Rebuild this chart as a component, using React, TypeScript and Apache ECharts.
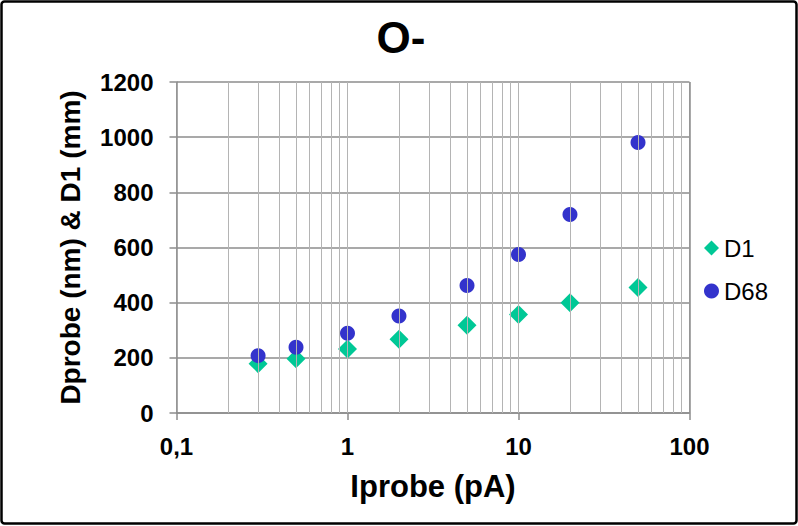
import React, { useEffect, useRef } from "react";
import * as echarts from "echarts";

const currents = [0.3, 0.5, 1, 2, 5, 10, 20, 50];
const d1Values = [179, 197, 232, 267, 318, 357, 400, 455];
const d68Values = [208, 238, 289, 352, 462, 575, 720, 981];
const minorGridValues = [
  0.2, 0.3, 0.4, 0.5, 0.6, 0.7, 0.8, 0.9,
  2, 3, 4, 5, 6, 7, 8, 9,
  20, 30, 40, 50, 60, 70, 80, 90,
];
const majorGridValues = [1, 10];
const seriesNames = ["D1", "D68"];

const FONT = "'Liberation Sans', Arial, Helvetica, sans-serif";

export default function App() {
  const ref = useRef<HTMLDivElement>(null);
  useEffect(() => {
    if (!ref.current) return;
    const chart = echarts.init(ref.current, null, { renderer: "svg" });
    const fmtX = (v: number) => String(Number(v.toPrecision(6))).replace(".", ",");
    const fmtY = (v: number) => String(Math.round(v));
    chart.setOption({
      animation: false,
      backgroundColor: "#ffffff",
      grid: { left: 176.5, right: 108.5, top: 82, bottom: 113, containLabel: false },
      graphic: [
        {
          type: "rect",
          shape: { x: 1.5, y: 1.5, width: 795, height: 522, r: 3 },
          style: { fill: "none", stroke: "#000000", lineWidth: 2.5 },
          silent: true,
          z: 100,
        },
        {
          type: "text",
          x: 401,
          y: 37,
          style: {
            text: "O-",
            fontFamily: FONT,
            fontWeight: "bold",
            fontSize: 44,
            fill: "#000000",
            textAlign: "center",
            textVerticalAlign: "middle",
          },
        },
      ],
      legend: {
        data: seriesNames,
        orient: "vertical",
        left: 699,
        top: 231,
        itemWidth: 15,
        itemHeight: 15,
        itemGap: 19,
        textStyle: { fontFamily: FONT, fontSize: 24, color: "#000000", lineHeight: 24 },
      },
      xAxis: {
        type: "log",
        logBase: 10,
        min: 0.1,
        max: 100,
        name: "Iprobe (pA)",
        nameLocation: "middle",
        nameGap: 58,
        nameTextStyle: { fontFamily: FONT, fontWeight: "bold", fontSize: 31, color: "#000000" },
        axisLine: { show: true, lineStyle: { color: "#8c8c8c", width: 1.5 } },
        axisTick: { show: true, length: 7, lineStyle: { color: "#8c8c8c", width: 1.5 } },
        axisLabel: {
          formatter: fmtX,
          fontFamily: FONT,
          fontWeight: "bold",
          fontSize: 24,
          color: "#000000",
          margin: 21,
        },
        splitLine: { show: true, lineStyle: { color: "#b4b4b4", width: 1 } },
      },
      yAxis: {
        type: "value",
        min: 0,
        max: 1200,
        interval: 200,
        name: "Dprobe (nm) & D1 (mm)",
        nameLocation: "middle",
        nameGap: 92,
        nameTextStyle: { fontFamily: FONT, fontWeight: "bold", fontSize: 28, color: "#000000" },
        axisLine: { show: true, lineStyle: { color: "#8c8c8c", width: 1.5 } },
        axisTick: { show: true, length: 7, lineStyle: { color: "#8c8c8c", width: 1.5 } },
        axisLabel: {
          formatter: fmtY,
          fontFamily: FONT,
          fontWeight: "bold",
          fontSize: 24,
          color: "#000000",
          margin: 23,
        },
        splitLine: { show: true, lineStyle: { color: "#8c8c8c", width: 1.5 } },
      },
      series: [
        {
          name: "grid-lines",
          type: "scatter",
          data: [],
          z: 1,
          silent: true,
          markLine: {
            silent: true,
            symbol: ["none", "none"],
            label: { show: false },
            lineStyle: { color: "#b4b4b4", width: 1, type: "solid" },
            emphasis: { disabled: true },
            data: [
              ...minorGridValues.map((v) => ({ xAxis: v })),
              ...majorGridValues.map((v) => ({ xAxis: v })),
              { xAxis: 100, lineStyle: { color: "#8c8c8c", width: 1.5, type: "solid" } },
            ],
          },
        },
        {
          name: "D1",
          type: "scatter",
          symbol: "diamond",
          symbolSize: 19,
          z: 3,
          itemStyle: { color: "#00c896", opacity: 1 },
          data: currents.map((x, i) => [x, d1Values[i]]),
        },
        {
          name: "D68",
          type: "scatter",
          symbol: "circle",
          symbolSize: 15,
          z: 4,
          itemStyle: { color: "#3333cc", opacity: 1 },
          data: currents.map((x, i) => [x, d68Values[i]]),
        },
      ],
    });
    return () => chart.dispose();
  }, []);
  return (
    <div
      ref={ref}
      style={{ position: "fixed", left: 0, top: 0, width: 798, height: 526, background: "#fff" }}
    />
  );
}
